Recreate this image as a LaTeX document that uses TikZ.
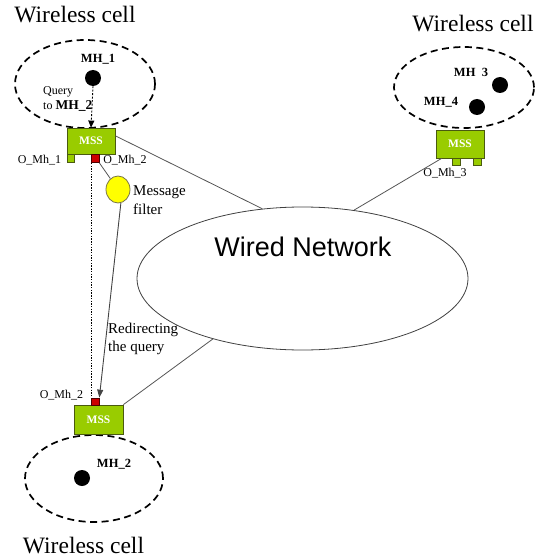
\documentclass[tikz,border=0pt]{standalone}
\usepackage{fontspec}
\setmainfont{Liberation Serif}
\newfontfamily\titlefont{Liberation Serif}
\newfontfamily\netfont{Liberation Sans}
\usetikzlibrary{shapes.geometric,arrows.meta}

\definecolor{mssgreen}{HTML}{99CC00}
\definecolor{mssedge}{HTML}{4A5A10}
\definecolor{portred}{HTML}{CC0000}
\definecolor{filteryellow}{HTML}{FFFF00}
\definecolor{linkgray}{HTML}{555555}

\tikzset{
  cell/.style={ellipse, draw=black, line width=1.7pt, dash pattern=on 7pt off 4.5pt, inner sep=0pt},
  host/.style={circle, fill=black, inner sep=0pt, minimum size=16pt},
  hostlabel/.style={inner sep=0pt, font=\fontsize{12.5}{14}\selectfont\bfseries},
  mssbox/.style={rectangle, draw=mssedge, line width=0.8pt, fill=mssgreen, inner sep=0pt,
    text=white, font=\fontsize{11.5}{13}\selectfont\bfseries},
  gport/.style={rectangle, draw=mssedge, line width=0.7pt, fill=mssgreen, inner sep=0pt,
    minimum width=7pt, minimum height=8pt},
  rport/.style={rectangle, draw=black!70!red, line width=0.7pt, fill=portred, inner sep=0pt,
    minimum width=8pt, minimum height=8pt},
  portlabel/.style={inner sep=0pt, font=\fontsize{12}{14}\selectfont},
  celltitle/.style={inner sep=0pt, anchor=base, font=\titlefont\fontsize{23.5}{26}\selectfont},
  note/.style={inner sep=0pt, anchor=west, font=\fontsize{15}{17}\selectfont},
  link/.style={draw=linkgray, line width=0.8pt},
  msg/.style={draw=linkgray!80!black, line width=0.9pt, -{Triangle[width=6pt,length=8pt]}},
}

\begin{document}
\begin{tikzpicture}[x=1pt,y=-1pt]
\useasboundingbox (0,0) rectangle (539,559);

% wired core
\node[ellipse, draw=black!75, line width=0.8pt, minimum width=331pt, minimum height=143pt, inner sep=0pt]
  (net) at (302.5,278.5) {};
\node[inner sep=0pt, font=\netfont\fontsize{27}{30}\selectfont] (netlabel) at (303,247) {Wired Network};

% wireless cells
\node[cell, minimum width=140pt, minimum height=88pt] (cellA) at (85,84) {};
\node[cell, minimum width=140pt, minimum height=81pt] (cellB) at (464,87.5) {};
\node[cell, minimum width=138pt, minimum height=87pt] (cellC) at (94,478.5) {};

\node[celltitle] (titleA) at (75,23) {Wireless cell};
\node[celltitle] (titleB) at (473,32) {Wireless cell};
\node[celltitle] (titleC) at (83.5,553) {Wireless cell};

% mobile hosts
\node[host] (mh1) at (93,78) {};
\node[hostlabel] (mh1l) at (98,59) {MH\_1};
\node[host] (mh3) at (500,85) {};
\node[hostlabel] (mh3l) at (471,72) {MH\enspace3};
\node[host] (mh4) at (477,107) {};
\node[hostlabel] (mh4l) at (441,102) {MH\_4};
\node[host] (mh2) at (82,478) {};
\node[hostlabel] (mh2l) at (114,464) {MH\_2};

% support stations and their ports
\node[mssbox, minimum width=48pt, minimum height=26pt] (mssA) at (91,141) {MSS};
\node[gport] (portA1) at (70.5,158.5) {};
\node[rport] (portA2) at (95,158.5) {};
\node[portlabel] (portA1l) at (39.5,160) {O\_Mh\_1};
\node[portlabel] (portA2l) at (125,160) {O\_Mh\_2};

\node[mssbox, minimum width=48pt, minimum height=28pt] (mssB) at (460,144) {MSS};
\node[gport, minimum width=8pt, minimum height=7pt] (portB1) at (456,161.5) {};
\node[gport, minimum width=8pt, minimum height=7pt] (portB2) at (477.5,161.5) {};
\node[portlabel] (portBl) at (445,173) {O\_Mh\_3};

\node[mssbox, minimum width=49pt, minimum height=29pt] (mssC) at (98.5,419.5) {MSS};
\node[rport, minimum height=7pt] (portC) at (95,401.5) {};
\node[portlabel] (portCl) at (61.5,395) {O\_Mh\_2};

% message filter
\node[ellipse, draw=black!60!yellow, line width=0.8pt, fill=filteryellow, inner sep=0pt,
  minimum width=24pt, minimum height=27pt] (filter) at (118,189.5) {};
\node[note] (filterl1) at (133,192) {Message};
\node[note] (filterl2) at (133,209) {filter};

% query text
\node[inner sep=0pt, anchor=west, font=\fontsize{12}{14}\selectfont] (q1) at (43,92) {Query};
\node[inner sep=0pt, anchor=west, font=\fontsize{12}{14}\selectfont] (q2) at (43,106)
  {to {\fontsize{13.5}{15}\selectfont\bfseries MH\_2}};

\node[note] (redir1) at (108,330) {Redirecting};
\node[note] (redir2) at (108,348) {the query};

% links to the wired core
\draw[link] (mssA.12) -- (net.120);
\draw[link] (mssB.218) -- (net.53);
\draw[link] (mssC.north east) -- (net.214);

% query path
\draw[black, line width=0.9pt, dash pattern=on 2pt off 1.5pt, -{Triangle[width=6pt,length=7pt]}]
  (mh1.south) -- (mssA.north);
\draw[link] (portA2.south east) -- (filter);
\draw[black, line width=1.7pt, dash pattern=on 1.4pt off 1.3pt]
  ([xshift=0.8pt]portA2.south west) -- ([xshift=0.8pt]portC.north west);
\draw[msg] (filter.-78) -- (portC.north east);
\end{tikzpicture}
\end{document}
